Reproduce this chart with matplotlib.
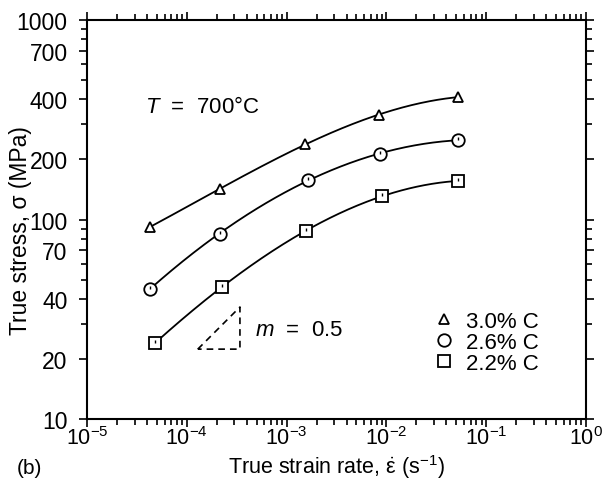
# 700°C 下三种碳含量的真应力-应变速率 (双对数)
import numpy as np
import matplotlib
matplotlib.use('Agg')
import matplotlib.pyplot as plt
from matplotlib.path import Path

plt.rcParams['font.family'] = ['Liberation Sans', 'DejaVu Sans']
plt.rcParams['mathtext.fontset'] = 'custom'
plt.rcParams['mathtext.rm'] = 'Liberation Sans'
plt.rcParams['mathtext.it'] = 'Liberation Sans:italic'
plt.rcParams['mathtext.default'] = 'regular'

# 读图得到的数据
rate_30 = [4.3e-5, 2.15e-4, 1.53e-3, 8.4e-3, 5.2e-2]
stress_30 = [92, 142, 239, 334, 411]
rate_26 = [4.3e-5, 2.15e-4, 1.64e-3, 8.6e-3, 5.2e-2]
stress_26 = [45, 85, 158, 213, 250]
rate_22 = [4.8e-5, 2.25e-4, 1.56e-3, 9.0e-3, 5.2e-2]
stress_22 = [24, 46, 87.5, 131, 156]
labels = ['3.0% C', '2.6% C', '2.2% C']

yticks = [10, 20, 40, 70, 100, 200, 400, 700, 1000]
xticks = [1e-5, 1e-4, 1e-3, 1e-2, 1e-1, 1e0]

# 标记里的小竖线 (扫描图里的样子)
tick_mark = Path([(0, 0), (0, 1)], [Path.MOVETO, Path.LINETO])

fig = plt.figure(figsize=(6.07, 4.85), dpi=100)
ax = fig.add_axes([0.1433, 0.134, 0.822, 0.8227])


def curve(x, y):
    lx = np.log10(x)
    ly = np.log10(y)
    p = np.polyfit(lx, ly, 3)
    xs = np.linspace(lx[0], lx[-1], 200)
    return 10 ** xs, 10 ** np.polyval(p, xs)


series = [(rate_30, stress_30, '^', 7), (rate_26, stress_26, 'o', 9), (rate_22, stress_22, 's', 9)]
handles = []
for (x, y, m, ms), lab in zip(series, labels):
    cx, cy = curve(x, y)
    ax.plot(cx, cy, color='black', lw=1.3, zorder=2)
    h, = ax.plot(x, y, linestyle='none', marker=m, ms=ms, mfc='white', mec='black',
                 mew=1.3, zorder=3, label=lab)
    if m != '^':
        ax.plot(x, y, linestyle='none', marker=tick_mark, ms=ms / 2, mec='black',
                mew=1.0, zorder=4)
    handles.append(h)

ax.set_xscale('log')
ax.set_yscale('log')
ax.set_xlim(1e-5, 1)
ax.set_ylim(10, 1000)
ax.set_xticks(xticks)
ax.set_xticklabels([r'$10^{%d}$' % int(np.log10(v)) for v in xticks])
ax.set_yticks(yticks)
ax.set_yticklabels([str(v) for v in yticks])
ax.minorticks_on()
ax.yaxis.set_minor_locator(matplotlib.ticker.LogLocator(base=10, subs=np.arange(2, 10)))
ax.yaxis.set_minor_formatter(matplotlib.ticker.NullFormatter())
ax.tick_params(which='both', direction='out', top=True, right=True, labeltop=False,
               labelright=False, width=1.2)
ax.tick_params(axis='y', pad=8, labelsize=16.5)
ax.tick_params(axis='x', pad=-1, labelsize=15.5)
ax.tick_params(which='major', length=6)
ax.tick_params(which='minor', length=4)
for s in ax.spines.values():
    s.set_linewidth(1.5)

ax.set_xlabel(r'True strain rate, $\dot{\varepsilon}$ (s$^{-1}$)', fontsize=15.5)
ax.set_ylabel('True stress, σ (MPa)', fontsize=16.5)
ax.xaxis.set_label_coords(0.5, -0.082)
ax.yaxis.set_label_coords(-0.134, 0.474)
ax.yaxis.label.set_va('center')

ax.text(0.117, 0.782, r'$\mathit{T}$  =  700°C', transform=ax.transAxes, fontsize=16,
        va='center', ha='left')
ax.text(0.337, 0.225, r'$\mathit{m}$  =  0.5', transform=ax.transAxes, fontsize=16,
        va='center', ha='left')

# 斜率三角形 m = 0.5
x1, x2 = 1.29e-4, 3.41e-4
y1 = 22.4
y2 = y1 * (x2 / x1) ** 0.5
ax.plot([x1, x2, x2, x1], [y1, y2, y1, y1], color='black', lw=1.2, ls=(0, (4, 3)))

leg = ax.legend(handles=handles, loc='lower left', bbox_to_anchor=(0.67, 0.085),
                frameon=False, fontsize=16, handlelength=1.0, handletextpad=0.5,
                labelspacing=0.0, borderpad=0)

fig.text(0.028, 0.035, '(b)', fontsize=15, ha='left', va='center')

fig.savefig('out.png', dpi=100)
